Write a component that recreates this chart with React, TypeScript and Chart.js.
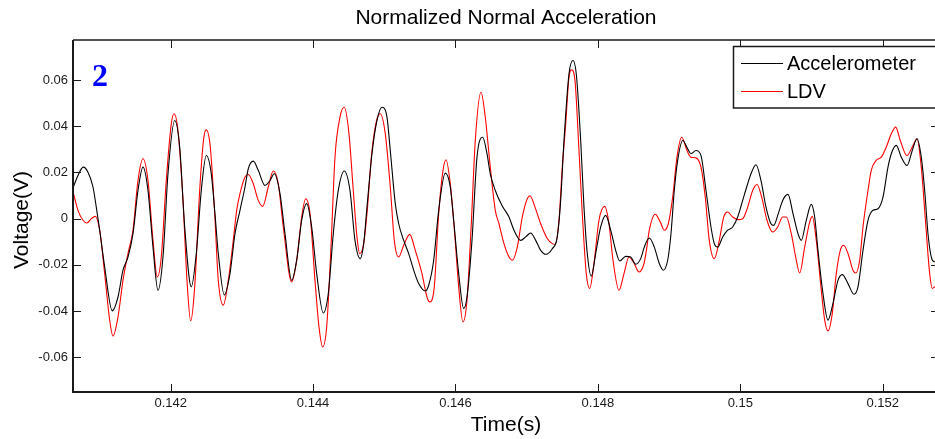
import React, { useEffect, useRef } from 'react';
import { Chart, registerables } from 'chart.js';

Chart.register(...registerables);

const chartTitle = 'Normalized Normal Acceleration';
const xAxisTitle = 'Time(s)';
const yAxisTitle = 'Voltage(V)';
const panelLabel = '2';
const seriesNames = ['Accelerometer', 'LDV'];
const seriesColors = ['#000000', '#ff0000'];

const xTickValues = [0.142, 0.144, 0.146, 0.148, 0.15, 0.152];
const yTickValues = [-0.06, -0.04, -0.02, 0, 0.02, 0.04, 0.06];
const xRange = [0.140628, 0.152791];
const yRange = [-0.075, 0.0773];

const accelTime = [0.140632, 0.140698, 0.1407725, 0.1408385, 0.1409087, 0.1409551, 0.1410028, 0.141073, 0.1411798, 0.1412598,
  0.1413301, 0.1414003, 0.1414705, 0.1415407, 0.141611, 0.1416812, 0.1417514, 0.1418216, 0.1418919, 0.1419621,
  0.1420562, 0.1421264, 0.1421966, 0.1422893, 0.1423596, 0.1424298, 0.1425, 0.1425702, 0.1426222, 0.1426685,
  0.1427528, 0.1428329, 0.1429031, 0.1429733, 0.1430435, 0.1430899, 0.1431601, 0.1432303, 0.1433244, 0.1433947,
  0.1434551, 0.1435351, 0.1436053, 0.1436994, 0.1437697, 0.1438399, 0.1439101, 0.1439803, 0.1440506, 0.1441433,
  0.1442135, 0.1442837, 0.1443539, 0.1444382, 0.1445183, 0.1445885, 0.1446629, 0.1447107, 0.144757, 0.1448273,
  0.1448975, 0.1449677, 0.1450379, 0.1450843, 0.1451545, 0.1452023, 0.1452725, 0.1453427, 0.1454129, 0.1454832,
  0.1455759, 0.1456236, 0.1456938, 0.1457641, 0.1458568, 0.145927, 0.1459747, 0.146045, 0.1461152, 0.1461615,
  0.1462318, 0.146302, 0.146382, 0.1464424, 0.1464888, 0.146559, 0.1466531, 0.1467514, 0.1468217, 0.1469158,
  0.146986, 0.1470562, 0.1471264, 0.1471967, 0.1472669, 0.1473596, 0.1474298, 0.1474776, 0.1475239, 0.1475941,
  0.1476503, 0.1476967, 0.1477585, 0.1478048, 0.1478511, 0.1479073, 0.1479691, 0.1480394, 0.1481096, 0.1481798,
  0.14825, 0.1483062, 0.1483905, 0.1484607, 0.1485309, 0.1486012, 0.1486517, 0.1487219, 0.1487922, 0.1488624,
  0.1489186, 0.1489804, 0.1490267, 0.1490731, 0.1491208, 0.149191, 0.1492613, 0.1493076, 0.1493778, 0.1494481,
  0.1495183, 0.1495885, 0.1496349, 0.1496826, 0.1497528, 0.1498231, 0.1498933, 0.1499635, 0.1500337, 0.150104,
  0.1501503, 0.1502205, 0.1502907, 0.150361, 0.1504312, 0.1504691, 0.1505337, 0.1505955, 0.15067, 0.1507402,
  0.1508104, 0.1508568, 0.150927, 0.1509972, 0.151045, 0.1510913, 0.1511615, 0.1512318, 0.151302, 0.1513722,
  0.1514326, 0.1515127, 0.151597, 0.1516531, 0.1517234, 0.1517936, 0.1518638, 0.151934, 0.1520043, 0.1520745,
  0.1521208, 0.1521911, 0.1522613, 0.1523414, 0.1524158, 0.1524818, 0.1525422, 0.1525899, 0.1526363, 0.1526826,
  0.1527304, 0.1527908];

const accelVolt = [0.0137, 0.0187, 0.0223, 0.0201, 0.0137, 0.005, -0.005, -0.0209, -0.0399, -0.0339,
  -0.0223, -0.0166, -0.0065, 0.0122, 0.0223, 0.0122, -0.0123, -0.031, -0.0166, 0.0194,
  0.0425, 0.031, -0.0036, -0.0295, -0.0151, 0.0122, 0.0273, 0.0194, 0.002, -0.015,
  -0.033, -0.0238, -0.0065, 0.0036, 0.0137, 0.0216, 0.0249, 0.0209, 0.0144, 0.0165,
  0.0194, 0.0108, -0.0065, -0.0267, -0.018, -0.0007, 0.0065, -0.0036, -0.0238, -0.0408,
  -0.0324, -0.0065, 0.0122, 0.0206, 0.0122, -0.0094, -0.0173, -0.0108, 0.005, 0.0281,
  0.0425, 0.0482, 0.0439, 0.0295, 0.0065, -0.0022, -0.0094, -0.0151, -0.0223, -0.0281,
  -0.0313, -0.0288, -0.018, 0.0036, 0.0197, 0.0137, -0.0007, -0.0238, -0.0389, -0.0339,
  -0.0094, 0.0266, 0.0352, 0.0281, 0.0194, 0.0122, 0.0057, 0.0007, -0.005, -0.0094,
  -0.0079, -0.0062, -0.0094, -0.0137, -0.0154, -0.013, -0.0079, 0.0079, 0.0338, 0.0626,
  0.0684, 0.0626, 0.0338, 0.005, -0.0151, -0.0249, -0.0151, -0.0036, 0.0014, -0.005,
  -0.0137, -0.0183, -0.0163, -0.0166, -0.0197, -0.0173, -0.0123, -0.0084, -0.0123, -0.0194,
  -0.0223, -0.018, -0.0065, 0.0122, 0.0252, 0.0338, 0.0302, 0.0281, 0.0295, 0.0273,
  0.0122, -0.0036, -0.0108, -0.0123, -0.0079, -0.005, -0.0036, 0.0007, 0.0079, 0.0151,
  0.0194, 0.0233, 0.0165, 0.005, -0.0022, -0.0029, 0.0022, 0.0079, 0.0105, 0.0022,
  -0.0065, -0.0094, -0.0007, 0.0062, 0.0007, -0.0137, -0.0324, -0.0439, -0.0367, -0.0267,
  -0.0242, -0.0281, -0.0327, -0.0295, -0.0137, -0.0007, 0.0036, 0.0043, 0.0093, 0.0223,
  0.0281, 0.0317, 0.0266, 0.023, 0.0295, 0.0346, 0.0266, 0.0122, -0.0065, -0.0166,
  -0.0187, -0.019];

const ldvTime = [0.140632, 0.140698, 0.1407683, 0.1408244, 0.1408848, 0.140941, 0.1410028, 0.141073, 0.1411433, 0.1411896,
  0.1412598, 0.1413301, 0.1414003, 0.1414705, 0.1415407, 0.141611, 0.1416812, 0.1417514, 0.1418118, 0.141868,
  0.1419382, 0.1420084, 0.1420463, 0.1421025, 0.1421728, 0.1422289, 0.1422809, 0.1423371, 0.1424073, 0.1424635,
  0.1425, 0.1425562, 0.142618, 0.1426685, 0.1427388, 0.142809, 0.1428792, 0.142927, 0.1429733, 0.1430435,
  0.1430899, 0.1431601, 0.1432303, 0.1432921, 0.1433708, 0.143441, 0.1435112, 0.1435815, 0.1436994, 0.1437697,
  0.1438399, 0.1438961, 0.1439565, 0.1440267, 0.1440829, 0.1441348, 0.144191, 0.1442514, 0.1443076, 0.1443778,
  0.1444382, 0.1445042, 0.1445646, 0.1446166, 0.1446545, 0.1447107, 0.144757, 0.1448273, 0.1448975, 0.1449438,
  0.1450141, 0.1450843, 0.1451405, 0.1452023, 0.1452725, 0.1453568, 0.1454354, 0.1455295, 0.1455997, 0.1456377,
  0.1457023, 0.1457641, 0.1458245, 0.1458666, 0.145927, 0.1459888, 0.146045, 0.1461054, 0.1461615, 0.1462219,
  0.1462781, 0.1463582, 0.1464186, 0.1464888, 0.146559, 0.146611, 0.1466812, 0.1467416, 0.1467978, 0.146868,
  0.1469382, 0.1470084, 0.1470464, 0.1471166, 0.1471967, 0.1472893, 0.1473596, 0.1473975, 0.1474537, 0.1475,
  0.1475478, 0.1475941, 0.147632, 0.1476784, 0.1477346, 0.1477809, 0.1478371, 0.1478849, 0.1479452, 0.1480155,
  0.1480955, 0.1481559, 0.1482121, 0.1482964, 0.1483666, 0.1484368, 0.148507, 0.1485773, 0.1486475, 0.1486826,
  0.1487219, 0.1488062, 0.1488764, 0.1489326, 0.1489888, 0.1490506, 0.149111, 0.149177, 0.1492514, 0.1493076,
  0.1493778, 0.1494481, 0.1495085, 0.1495646, 0.1496349, 0.1497051, 0.1497669, 0.1498231, 0.1498933, 0.1499635,
  0.1500337, 0.150104, 0.1501742, 0.1502346, 0.1503006, 0.150375, 0.1504551, 0.1505253, 0.1505955, 0.1506461,
  0.1507163, 0.1507781, 0.1508343, 0.1509045, 0.1509748, 0.1510113, 0.1510675, 0.1511377, 0.1511854, 0.1512318,
  0.1512922, 0.1513484, 0.1514045, 0.1514523, 0.1515127, 0.1515829, 0.1516208, 0.151677, 0.1517234, 0.1517936,
  0.1518399, 0.1519101, 0.1519804, 0.1520506, 0.1521208, 0.1521826, 0.1522472, 0.1523414, 0.1524158, 0.1524818,
  0.1525422, 0.152604, 0.1526602, 0.1526967, 0.1527304, 0.1527908];

const ldvVolt = [0.0112, 0.0036, -0.0007, -0.0019, 0.0, 0.001, -0.005, -0.0238, -0.0439, -0.0508,
  -0.0425, -0.0267, -0.0151, -0.005, 0.0165, 0.0259, 0.0165, -0.0094, -0.0252, -0.0166,
  0.0165, 0.041, 0.0454, 0.0381, 0.0079, -0.0267, -0.0442, -0.0295, 0.0122, 0.0346,
  0.0384, 0.031, 0.0022, -0.0267, -0.0374, -0.0267, -0.0094, 0.0036, 0.0108, 0.018,
  0.0191, 0.0151, 0.0079, 0.0053, 0.0137, 0.0206, 0.0151, -0.0036, -0.0274, -0.018,
  0.0007, 0.0086, 0.0022, -0.0267, -0.0468, -0.0555, -0.0468, -0.0123, 0.0266, 0.0439,
  0.0482, 0.0367, 0.0122, -0.008, -0.0151, -0.0108, 0.0022, 0.0295, 0.0432, 0.0454,
  0.0367, 0.0137, -0.0094, -0.0166, -0.0115, -0.0068, -0.0137, -0.0238, -0.0339, -0.036,
  -0.0295, 0.0022, 0.0209, 0.0255, 0.0151, -0.0065, -0.0295, -0.0447, -0.0353, -0.0022,
  0.0338, 0.0547, 0.0439, 0.0223, 0.0036, -0.0022, -0.0108, -0.0159, -0.018, -0.0123,
  0.0007, 0.0086, 0.0099, 0.005, -0.0022, -0.0086, -0.0108, -0.0111, -0.0007, 0.0223,
  0.041, 0.0612, 0.0644, 0.0597, 0.0295, 0.0022, -0.0238, -0.0302, -0.0194, -0.0007,
  0.0053, -0.0022, -0.018, -0.031, -0.0238, -0.0166, -0.0192, -0.0231, -0.0194, -0.0135,
  -0.005, 0.0019, -0.0015, -0.005, -0.0022, 0.0093, 0.0266, 0.0352, 0.0295, 0.0266,
  0.0263, 0.0223, 0.0093, -0.0094, -0.0173, -0.0094, 0.0007, 0.0029, 0.0007, -0.0004,
  0.0, 0.005, 0.0122, 0.0148, 0.0093, -0.0007, -0.0058, -0.0036, 0.0007, 0.0007,
  -0.0065, -0.0166, -0.0235, -0.0123, -0.0015, 0.001, -0.0094, -0.031, -0.0439, -0.0486,
  -0.041, -0.0238, -0.0137, -0.0115, -0.0151, -0.0223, -0.0235, -0.018, -0.0036, 0.0122,
  0.0209, 0.0252, 0.0266, 0.031, 0.0367, 0.0396, 0.0338, 0.0273, 0.031, 0.0346,
  0.0223, -0.0022, -0.0238, -0.0302, -0.0295, -0.028];

const FONT = '"Liberation Sans", Arial, Helvetica, sans-serif';

function fmt(v: number): string {
  if (Math.abs(v) < 1e-12) return '0';
  return String(Number(v.toFixed(4)));
}

const decorPlugin = {
  id: 'matlabDecor',
  afterDraw(chart: any) {
    const { ctx, chartArea: a, scales } = chart;
    const xs = scales.x;
    const ys = scales.y;
    ctx.save();
    // axes box
    ctx.strokeStyle = '#1a1a1a';
    ctx.lineWidth = 2;
    ctx.beginPath();
    ctx.moveTo(a.left, a.top);
    ctx.lineTo(a.left, a.bottom);
    ctx.lineTo(a.right, a.bottom);
    ctx.lineTo(a.right, a.top);
    ctx.stroke();
    ctx.lineWidth = 1.5;
    ctx.beginPath();
    ctx.moveTo(a.left, a.top);
    ctx.lineTo(a.right, a.top);
    ctx.stroke();

    // inward ticks
    const tl = 8;
    ctx.lineWidth = 1;
    ctx.beginPath();
    xTickValues.forEach((v) => {
      const px = Math.round(xs.getPixelForValue(v)) + 0.5;
      ctx.moveTo(px, a.bottom);
      ctx.lineTo(px, a.bottom - tl);
      ctx.moveTo(px, a.top);
      ctx.lineTo(px, a.top + tl);
    });
    yTickValues.forEach((v) => {
      const py = Math.round(ys.getPixelForValue(v)) + 0.5;
      ctx.moveTo(a.left, py);
      ctx.lineTo(a.left + tl, py);
      ctx.moveTo(a.right, py);
      ctx.lineTo(a.right - tl, py);
    });
    ctx.stroke();

    // title
    ctx.fillStyle = '#000';
    ctx.textAlign = 'center';
    ctx.textBaseline = 'middle';
    ctx.font = `21px ${FONT}`;
    ctx.fillText(chartTitle, (a.left + a.right) / 2, 18);

    // axis titles
    ctx.font = `21px ${FONT}`;
    ctx.fillText(xAxisTitle, (a.left + a.right) / 2, 425);
    ctx.save();
    ctx.translate(22, (a.top + a.bottom) / 2 + 4);
    ctx.rotate(-Math.PI / 2);
    ctx.fillText(yAxisTitle, 0, 0);
    ctx.restore();

    // panel label
    ctx.fillStyle = '#0000ff';
    ctx.font = `bold 32px "Liberation Serif", "Times New Roman", serif`;
    ctx.textAlign = 'left';
    ctx.textBaseline = 'alphabetic';
    ctx.fillText(panelLabel, 92, 86);

    // legend
    const lx = 733.5, ly = 46.5, lw = 210, lh = 61.5;
    ctx.fillStyle = '#fff';
    ctx.fillRect(lx, ly, lw, lh);
    ctx.strokeStyle = '#1a1a1a';
    ctx.lineWidth = 1.5;
    ctx.strokeRect(lx, ly, lw, lh);
    const rows = [63, 91];
    seriesNames.forEach((name, i) => {
      ctx.strokeStyle = seriesColors[i];
      ctx.lineWidth = 1;
      ctx.beginPath();
      ctx.moveTo(741, rows[i] + 0.5);
      ctx.lineTo(783, rows[i] + 0.5);
      ctx.stroke();
      ctx.fillStyle = '#000';
      ctx.font = `20px ${FONT}`;
      ctx.textAlign = 'left';
      ctx.textBaseline = 'middle';
      ctx.fillText(name, 787, rows[i] + 1);
    });
    ctx.restore();
  },
};

export default function App() {
  const ref = useRef<HTMLCanvasElement | null>(null);

  useEffect(() => {
    if (!ref.current) return;
    const toPoints = (t: number[], v: number[]) => t.map((x, i) => ({ x, y: v[i] }));
    const chart = new Chart(ref.current, {
      type: 'line',
      data: {
        datasets: [
          {
            label: seriesNames[0],
            data: toPoints(accelTime, accelVolt),
            borderColor: seriesColors[0],
            borderWidth: 1.1,
            pointRadius: 0,
            cubicInterpolationMode: 'monotone',
            fill: false,
          },
          {
            label: seriesNames[1],
            data: toPoints(ldvTime, ldvVolt),
            borderColor: seriesColors[1],
            borderWidth: 1.1,
            pointRadius: 0,
            cubicInterpolationMode: 'monotone',
            fill: false,
          },
        ],
      },
      options: {
        responsive: false,
        animation: false,
        devicePixelRatio: 1,
        layout: { padding: { left: 0, right: 6, top: 40, bottom: 0 } },
        plugins: {
          legend: { display: false },
          title: { display: false },
          tooltip: { enabled: false },
        },
        scales: {
          x: {
            type: 'linear',
            min: xRange[0],
            max: xRange[1],
            grid: { display: false, drawTicks: false },
            border: { display: false },
            afterBuildTicks: (s: any) => { s.ticks = xTickValues.map((value) => ({ value })); },
            afterFit: (s: any) => { s.height = 47; },
            ticks: {
              color: '#1a1a1a',
              padding: 4,
              autoSkip: false,
              maxRotation: 0,
              font: { family: FONT, size: 13 },
              callback: (v: any) => fmt(Number(v)),
            },
          },
          y: {
            type: 'linear',
            min: yRange[0],
            max: yRange[1],
            grid: { display: false, drawTicks: false },
            border: { display: false },
            afterBuildTicks: (s: any) => { s.ticks = yTickValues.map((value) => ({ value })); },
            afterFit: (s: any) => { s.width = 73; },
            ticks: {
              color: '#1a1a1a',
              padding: 5,
              autoSkip: false,
              font: { family: FONT, size: 13 },
              callback: (v: any) => fmt(Number(v)),
            },
          },
        },
      },
      plugins: [decorPlugin],
    } as any);
    return () => chart.destroy();
  }, []);

  return (
    <div style={{ position: 'fixed', left: 0, top: 0, width: 935, height: 439, overflow: 'hidden', background: '#fff' }}>
      <canvas ref={ref} width={945} height={439} style={{ display: 'block', width: 945, height: 439 }} />
    </div>
  );
}
